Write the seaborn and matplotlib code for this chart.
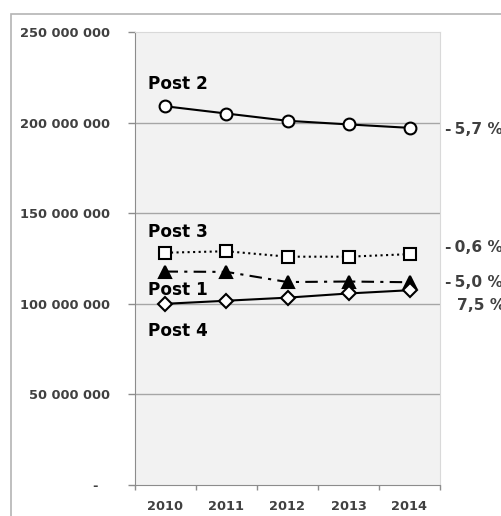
import pandas as pd
import matplotlib.pyplot as plt
import seaborn as sns
from matplotlib.patches import Rectangle
from matplotlib.ticker import FixedLocator

years = ['2010', '2011', '2012', '2013', '2014']
post_1 = [117.8e6, 117.6e6, 112.0e6, 112.3e6, 111.9e6]
post_2 = [209.0e6, 205.0e6, 201.0e6, 199.0e6, 197.1e6]
post_3 = [128.2e6, 129.0e6, 126.0e6, 126.0e6, 127.4e6]
post_4 = [100.0e6, 101.7e6, 103.4e6, 105.7e6, 107.5e6]
changes = {'Post 2': '-\u20095,7 %', 'Post 3': '-\u20090,6 %', 'Post 1': '-\u20095,0 %', 'Post 4': '7,5 %'}
y_ticks = [0, 50e6, 100e6, 150e6, 200e6, 250e6]
y_labels = ['-  \u2009', '50 000 000', '100 000 000', '150 000 000', '200 000 000', '250 000 000']

sns.set_style('white')
plt.rcParams['font.family'] = ['DejaVu Sans']

fig = plt.figure(figsize=(5.02, 5.16), dpi=100)
# outer chart frame (only top and left edges visible)
fig.patches.append(Rectangle((11 / 502, -0.1), 1.2, 1 - 14 / 516 + 0.1, transform=fig.transFigure,
                             fill=False, edgecolor='#b4b4b4', linewidth=1.2))
ax = fig.add_axes([135 / 502, 31 / 516, 305 / 502, 453 / 516])
ax.set_facecolor('#f2f2f2')

series = [
    ('Post 2', post_2, '-', 'o', 'white', 8.5),
    ('Post 3', post_3, ':', 's', 'white', 8.3),
    ('Post 1', post_1, (0, (6, 3, 1.5, 3)), '^', 'black', 8.3),
    ('Post 4', post_4, '-', 'D', 'white', 6.8),
]
for name, vals, ls, mk, mfc, ms in series:
    df = pd.DataFrame({'year': years, 'value': vals})
    sns.lineplot(data=df, x='year', y='value', ax=ax, color='black', linewidth=1.5,
                 linestyle=ls, marker=mk, markersize=ms, markerfacecolor=mfc,
                 markeredgecolor='black', markeredgewidth=1.5, zorder=3)

ax.set_xlim(-0.5, 4.5)
ax.set_ylim(0, 250e6)
ax.set_yticks(y_ticks)
ax.set_yticklabels(y_labels)
ax.set_xticks(range(len(years)))
ax.set_xticklabels(years)
ax.xaxis.set_minor_locator(FixedLocator([i - 0.5 for i in range(len(years) + 1)]))
ax.tick_params(axis='x', which='major', length=0, pad=11, labelsize=9.3, labelcolor='#404040')
ax.tick_params(axis='x', which='minor', length=3.6, width=1, color='#8c8c8c', direction='out', bottom=True)
ax.tick_params(axis='y', length=4.8, width=1, color='#8c8c8c', direction='out', left=True, pad=13,
               labelsize=9.4, labelcolor='#404040')
for lab in ax.get_xticklabels() + ax.get_yticklabels():
    lab.set_fontweight('bold')
for v in y_ticks[1:-1]:
    ax.axhline(v, color='#a6a6a6', linewidth=1, zorder=1)
ax.set_xlabel('')
ax.set_ylabel('')
for side in ['top', 'right']:
    ax.spines[side].set_color('#d9d9d9')
for side in ['left', 'bottom']:
    ax.spines[side].set_color('#8c8c8c')

# series names inside the plot (baseline positions in pixels)
name_pos = {'Post 2': 89, 'Post 3': 237, 'Post 1': 295, 'Post 4': 336.5}
for name, ypix in name_pos.items():
    fig.text(148 / 502, 1 - ypix / 516, name, fontsize=12.2, fontweight='bold',
             color='black', va='baseline', ha='left')

# percentage change labels on the right
change_pos = {'Post 2': (445, 133.5), 'Post 3': (445, 252.3), 'Post 1': (445, 286.7), 'Post 4': (457, 310.3)}
for name, (xpix, ypix) in change_pos.items():
    fig.text(xpix / 502, 1 - ypix / 516, changes[name], fontsize=11.1, fontweight='bold',
             color='#404040', va='baseline', ha='left')

fig.savefig('out.png', dpi=100)
